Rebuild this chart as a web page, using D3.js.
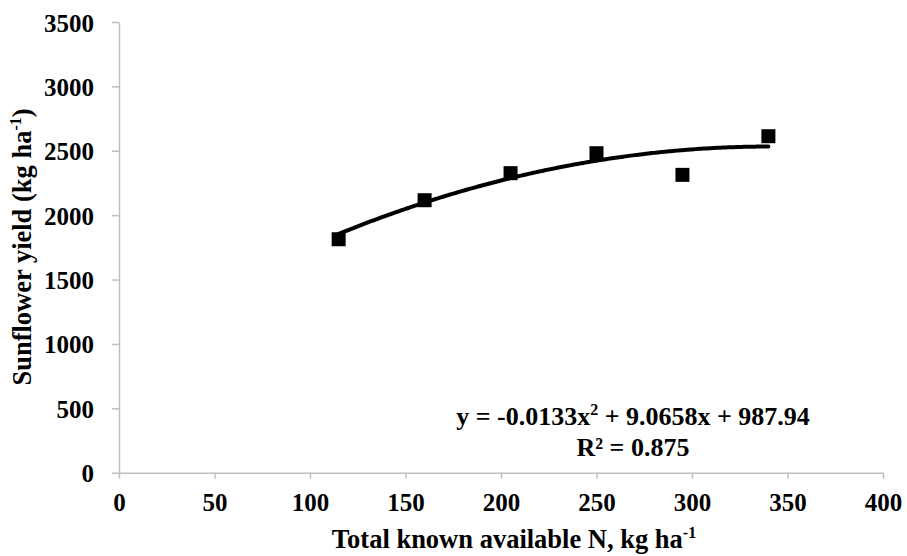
<!DOCTYPE html>
<html><head><meta charset="utf-8">
<script src="https://cdn.jsdelivr.net/npm/d3@7"></script>
<style>
body{margin:0;background:#fff;}
svg text{font-family:"Liberation Serif","Times New Roman",Times,serif;font-weight:bold;fill:#000;}
</style></head><body>
<svg id="c" width="907" height="556"></svg>
<script>
const xValues = [115, 160, 205, 250, 295, 340];
const yValues = [1813, 2116, 2326, 2481, 2313, 2613];
const xTicks = [0, 50, 100, 150, 200, 250, 300, 350, 400];
const yTicks = [0, 500, 1000, 1500, 2000, 2500, 3000, 3500];
const coef = [-0.0133, 9.0658, 987.94];
const trendRange = [115, 340];

const svg = d3.select("#c");
const x = d3.scaleLinear().domain([0, 400]).range([119, 883]);
const y = d3.scaleLinear().domain([0, 3500]).range([472.7, 22]);
const axisColor = "#bfbfbf";
const fmt = d3.format("d");

const xa = svg.append("g").attr("transform", `translate(0,${y(0)})`)
  .call(d3.axisBottom(x).tickValues(xTicks).tickFormat(fmt).tickSize(6).tickPadding(15).tickSizeOuter(0));
const ya = svg.append("g").attr("transform", `translate(${x(0)},0)`)
  .call(d3.axisLeft(y).tickValues(yTicks).tickFormat(fmt).tickSize(7).tickPadding(18).tickSizeOuter(0));
[xa, ya].forEach(a => {
  a.attr("font-family", null).attr("font-size", null);
  a.select(".domain").attr("stroke", axisColor).attr("stroke-width", 1.5);
  a.selectAll(".tick line").attr("stroke", axisColor).attr("stroke-width", 1.5);
  a.selectAll(".tick text").attr("font-size", 25).attr("fill", "#000");
});
ya.selectAll(".tick text").attr("dy", "0.36em");

// trendline
const tx = d3.range(trendRange[0], trendRange[1] + 0.01, 1);
const line = d3.line().x(d => x(d)).y(d => y(coef[0]*d*d + coef[1]*d + coef[2]));
svg.append("path").datum(tx).attr("d", line).attr("fill", "none")
  .attr("stroke", "#000").attr("stroke-width", 4).attr("stroke-linecap", "round");

// points
const s = 14;
svg.selectAll("rect.pt").data(xValues).enter().append("rect")
  .attr("x", (d) => x(d) - s/2).attr("y", (d, i) => y(yValues[i]) - s/2)
  .attr("width", s).attr("height", s).attr("fill", "#000");

// equation
const eq = svg.append("text").attr("x", 633).attr("y", 425).attr("text-anchor", "middle").attr("font-size", 26);
eq.append("tspan").text("y = -0.0133x");
eq.append("tspan").attr("font-size", 16).attr("dy", -10).text("2");
eq.append("tspan").attr("dy", 10).text(" + 9.0658x + 987.94");
svg.append("text").attr("x", 633).attr("y", 456).attr("text-anchor", "middle").attr("font-size", 26).text("R² = 0.875");

// x title
const xt = svg.append("text").attr("x", 514).attr("y", 548).attr("text-anchor", "middle").attr("font-size", 26.5);
xt.append("tspan").text("Total known available N, kg ha");
xt.append("tspan").attr("font-size", 16).attr("dy", -10).text("-1");

// y title
const yt = svg.append("text").attr("transform", "translate(31,247) rotate(-90)").attr("text-anchor", "middle").attr("font-size", 26.5);
yt.append("tspan").text("Sunflower yield (kg ha");
yt.append("tspan").attr("font-size", 16).attr("dy", -10).text("-1");
yt.append("tspan").attr("dy", 10).text(")");
</script></body></html>
